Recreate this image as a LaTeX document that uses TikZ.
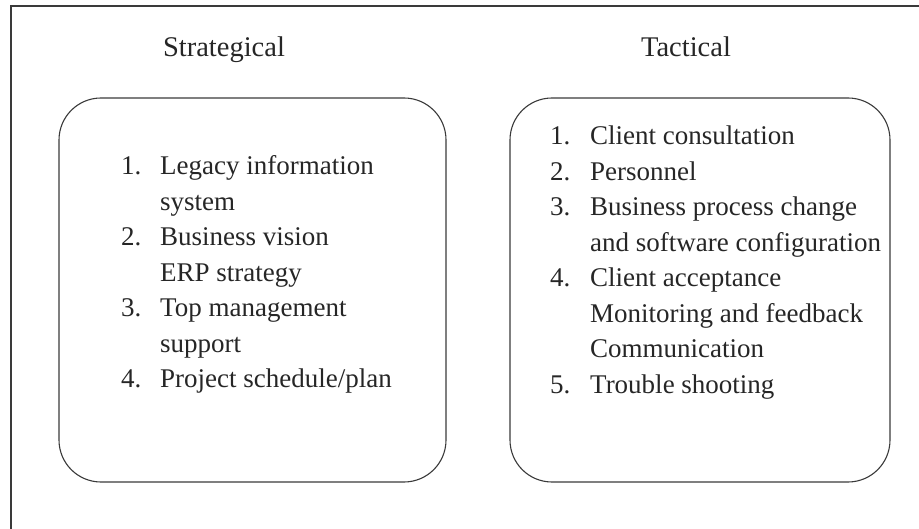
\documentclass[tikz,border=0pt]{standalone}
\usepackage{fontspec}
\setmainfont{Liberation Serif}
\definecolor{txt}{HTML}{262626}
\definecolor{ln}{HTML}{3A3A3A}
\begin{document}
\begin{tikzpicture}[x=1pt,y=-1pt,
  frame/.style={draw=ln,line width=1.1pt},
  box/.style={draw=ln,line width=1.1pt,rounded corners=42pt,inner sep=0pt},
  title/.style={anchor=base,inner sep=0pt,text=txt,font=\fontsize{28.5}{30}\selectfont},
  item/.style={anchor=base west,inner sep=0pt,text=txt,font=\fontsize{27}{30}\selectfont}]
\useasboundingbox (0,0) rectangle (919,529);
% outer frame (left and top edges only)
\coordinate (fbl) at (11,529);
\coordinate (ftl) at (11,6);
\coordinate (ftr) at (919,6);
\draw[frame] (fbl) -- (ftl) -- (ftr);
% titles
\node[title] (tstrat) at (224,57) {Strategical};
\node[title] (ttact) at (686,57) {Tactical};
% boxes
\node[box,minimum width=387pt,minimum height=384pt] (lbox) at (252.5,290) {};
\node[box,minimum width=380pt,minimum height=384pt] (rbox) at (700,290) {};
% left list
\node[item] (l1n) at (121,175) {1.};
\node[item] (l1a) at (160,175) {Legacy information};
\node[item] (l1b) at (160,210.5) {system};
\node[item] (l2n) at (121,246) {2.};
\node[item] (l2a) at (160,246) {Business vision};
\node[item] (l2b) at (160,281.5) {ERP strategy};
\node[item] (l3n) at (121,317) {3.};
\node[item] (l3a) at (160,317) {Top management};
\node[item] (l3b) at (160,352.5) {support};
\node[item] (l4n) at (121,388) {4.};
\node[item] (l4a) at (160,388) {Project schedule/plan};
% right list
\node[item] (r1n) at (550,145) {1.};
\node[item] (r1a) at (590,145) {Client consultation};
\node[item] (r2n) at (550,180.5) {2.};
\node[item] (r2a) at (590,180.5) {Personnel};
\node[item] (r3n) at (550,216) {3.};
\node[item] (r3a) at (590,216) {Business process change};
\node[item] (r3b) at (590,251.5) {and software configuration};
\node[item] (r4n) at (550,287) {4.};
\node[item] (r4a) at (590,287) {Client acceptance};
\node[item] (r4b) at (590,322.5) {Monitoring and feedback};
\node[item] (r4c) at (590,358) {Communication};
\node[item] (r5n) at (550,393.5) {5.};
\node[item] (r5a) at (590,393.5) {Trouble shooting};
\end{tikzpicture}
\end{document}
